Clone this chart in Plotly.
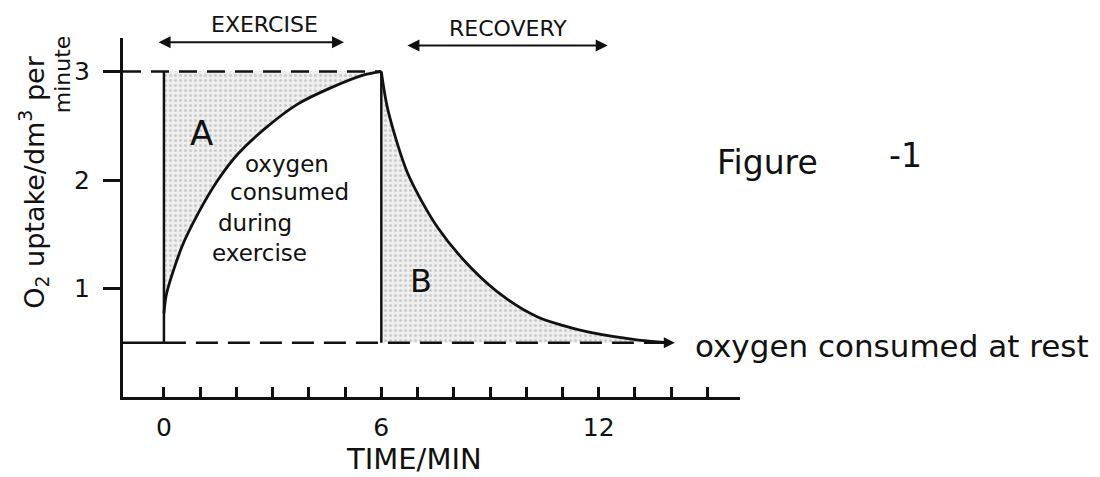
import plotly.graph_objects as go

# ---- data ----
exercise_t = [0.0, 0.07, 0.49, 0.94, 1.49, 2.04, 2.77, 3.69, 4.6, 5.52, 6.0]
exercise_o2 = [0.77, 0.95, 1.38, 1.69, 2.0, 2.24, 2.47, 2.70, 2.85, 2.97, 3.0]
recovery_t = [6.0, 6.18, 6.73, 7.56, 8.48, 9.4, 10.3, 11.0, 11.7, 13.1, 14.0]
recovery_o2 = [3.0, 2.65, 2.06, 1.56, 1.19, 0.92, 0.74, 0.66, 0.6, 0.525, 0.5]
max_uptake = 3.0
rest_uptake = 0.5
x_tick_vals = list(range(0, 16))
x_tick_text = ["0", "", "", "", "", "", "6", "", "", "", "", "", "12", "", "", ""]
y_tick_vals = [1, 2, 3]
y_tick_text = ["1", "2", "3"]

FONT = "DejaVu Sans"
INK = "#111111"
X_MIN, X_MAX = -1.13, 15.9
Y_MIN, Y_MAX = 0.0, 3.31

fig = go.Figure()

shade = dict(shape=".", fgcolor="rgba(100,100,100,0.5)", bgcolor="rgba(215,215,215,0.4)",
             size=5, solidity=0.3)

# area A: between y=3 and exercise curve
fig.add_trace(go.Scatter(x=[exercise_t[0], exercise_t[-1]], y=[max_uptake, max_uptake],
                         mode="lines", line=dict(width=0), hoverinfo="skip", showlegend=False))
fig.add_trace(go.Scatter(x=exercise_t, y=exercise_o2, mode="lines",
                         line=dict(width=0, shape="spline", smoothing=0.8),
                         fill="tonexty", fillcolor="rgba(215,215,215,0.4)", fillpattern=shade,
                         hoverinfo="skip", showlegend=False))
# area B: under recovery curve above rest level
fig.add_trace(go.Scatter(x=[recovery_t[0], recovery_t[-1]], y=[rest_uptake, rest_uptake],
                         mode="lines", line=dict(width=0), hoverinfo="skip", showlegend=False))
fig.add_trace(go.Scatter(x=recovery_t, y=recovery_o2, mode="lines",
                         line=dict(width=0, shape="spline", smoothing=0.8),
                         fill="tonexty", fillcolor="rgba(215,215,215,0.4)", fillpattern=shade,
                         hoverinfo="skip", showlegend=False))

# dashed max line
fig.add_trace(go.Scatter(x=[X_MIN, exercise_t[-1]], y=[max_uptake, max_uptake], mode="lines",
                         line=dict(color=INK, width=2.5, dash="18px,10px"), hoverinfo="skip", showlegend=False))
# rest line: solid stub then dashed
fig.add_trace(go.Scatter(x=[X_MIN, 0], y=[rest_uptake, rest_uptake], mode="lines",
                         line=dict(color=INK, width=2.5), hoverinfo="skip", showlegend=False))
fig.add_trace(go.Scatter(x=[0, recovery_t[-1]], y=[rest_uptake, rest_uptake], mode="lines",
                         line=dict(color=INK, width=2.5, dash="22px,10px"), hoverinfo="skip", showlegend=False))
# vertical lines at start and end of exercise
for xv in [exercise_t[0], exercise_t[-1]]:
    fig.add_trace(go.Scatter(x=[xv, xv], y=[rest_uptake, max_uptake], mode="lines",
                             line=dict(color=INK, width=2.5), hoverinfo="skip", showlegend=False))
# curves
fig.add_trace(go.Scatter(x=exercise_t, y=exercise_o2, mode="lines",
                         line=dict(color=INK, width=2.8, shape="spline", smoothing=0.8), showlegend=False))
fig.add_trace(go.Scatter(x=recovery_t, y=recovery_o2, mode="lines",
                         line=dict(color=INK, width=2.8, shape="spline", smoothing=0.8), showlegend=False))


def px(x):
    return (x - X_MIN) / (X_MAX - X_MIN)


def py(y):
    return (y - Y_MIN) / (Y_MAX - Y_MIN)


def txt(x, y, text, size, xanchor="center", **kw):
    fig.add_annotation(x=px(x), y=py(y), xref="paper", yref="paper", text=text, showarrow=False,
                       xanchor=xanchor, yanchor="middle",
                       font=dict(family=FONT, size=size, color=INK), **kw)


def dbl_arrow(x0, x1, y):
    fig.add_annotation(x=x1, y=y, ax=x0, ay=y, xref="x", yref="y", axref="x", ayref="y",
                       text="", showarrow=True, arrowhead=2, startarrowhead=2, arrowside="end+start",
                       arrowsize=1.2, startarrowsize=1.2, arrowwidth=2, arrowcolor=INK)


dbl_arrow(-0.19, 4.97, 3.27)
dbl_arrow(6.68, 12.25, 3.24)
txt(2.77, 3.43, "EXERCISE", 22)
txt(9.5, 3.40, "RECOVERY", 22)

# rest arrowhead
fig.add_annotation(x=recovery_t[-1] + 0.1, y=rest_uptake, ax=recovery_t[-1] - 0.4, ay=rest_uptake,
                   xref="x", yref="y", axref="x", ayref="y", text="", showarrow=True,
                   arrowhead=2, arrowsize=1.1, arrowwidth=2, arrowcolor=INK)

txt(1.04, 2.43, "A", 34)
txt(7.09, 1.07, "B", 32)
txt(2.17, 2.15, "oxygen", 23, xanchor="left")
txt(1.76, 1.89, "consumed", 23, xanchor="left")
txt(1.45, 1.60, "during", 23, xanchor="left")
txt(1.26, 1.33, "exercise", 23, xanchor="left")
txt(15.2, 2.16, "Figure", 33, xanchor="left")
txt(19.95, 2.23, "-1", 33, xanchor="left")
txt(14.59, 0.47, "oxygen consumed at rest", 31, xanchor="left")
txt(6.9, -0.568, "TIME/MIN", 29)
txt(-3.6, 1.98, "O<sub>2</sub> uptake/dm<sup>3</sup> per", 27, textangle=-90)
txt(-2.8, 2.98, "minute", 22, textangle=-90)

fig.update_xaxes(range=[X_MIN, X_MAX], showgrid=False, zeroline=False, showline=True,
                 linecolor=INK, linewidth=3, ticks="inside", ticklen=10, tickwidth=2.5, tickcolor=INK,
                 tickvals=x_tick_vals, ticktext=x_tick_text, ticklabelstandoff=6,
                 tickfont=dict(family=FONT, size=25, color=INK))
fig.update_yaxes(range=[Y_MIN, Y_MAX], showgrid=False, zeroline=False, showline=True,
                 linecolor=INK, linewidth=3, ticks="outside", ticklen=17, tickwidth=3, tickcolor=INK,
                 tickvals=y_tick_vals, ticktext=y_tick_text, ticklabelstandoff=8,
                 tickfont=dict(family=FONT, size=25, color=INK))

fig.update_layout(width=1092, height=469, margin=dict(l=115, r=360, t=30, b=80),
                  plot_bgcolor="white", paper_bgcolor="white", showlegend=False)

fig.write_html("out.html")
